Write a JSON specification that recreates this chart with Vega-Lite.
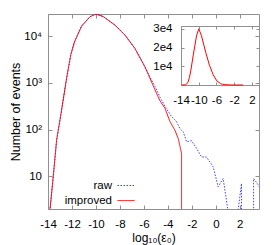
{
  "$schema": "https://vega.github.io/schema/vega-lite/v6.json",
  "width": 211,
  "height": 195,
  "autosize": {"type": "none"},
  "padding": {"left": 48, "top": 14, "right": 21, "bottom": 36},
  "config": {
    "font": "Liberation Sans",
    "view": {"stroke": "#909090", "strokeWidth": 1},
    "axis": {
      "labelFont": "Liberation Sans",
      "labelFontSize": 11.5,
      "labelColor": "black",
      "titleFont": "Liberation Sans",
      "titleFontSize": 12.5,
      "titleFontWeight": "normal",
      "titleColor": "black",
      "tickColor": "#909090",
      "domainColor": "#909090",
      "grid": false,
      "labelFlush": false,
      "labelOverlap": false
    }
  },
  "datasets": {
    "main": [
      {"series": "raw", "i": 0, "x": -13.9, "y": 1},
      {"series": "raw", "i": 1, "x": -13.83, "y": 2},
      {"series": "raw", "i": 2, "x": -13.56, "y": 10},
      {"series": "raw", "i": 3, "x": -13.28, "y": 60},
      {"series": "raw", "i": 4, "x": -12.94, "y": 200},
      {"series": "raw", "i": 5, "x": -12.44, "y": 1300},
      {"series": "raw", "i": 6, "x": -12.1, "y": 4000},
      {"series": "raw", "i": 7, "x": -11.8, "y": 7500},
      {"series": "raw", "i": 8, "x": -11.2, "y": 16500},
      {"series": "raw", "i": 9, "x": -10.5, "y": 26200},
      {"series": "raw", "i": 10, "x": -10.0, "y": 30000},
      {"series": "raw", "i": 11, "x": -9.4, "y": 26500},
      {"series": "raw", "i": 12, "x": -8.42, "y": 17400},
      {"series": "raw", "i": 13, "x": -7.58, "y": 10600},
      {"series": "raw", "i": 14, "x": -6.75, "y": 5500},
      {"series": "raw", "i": 15, "x": -5.92, "y": 2230},
      {"series": "raw", "i": 16, "x": -5.5, "y": 1350},
      {"series": "raw", "i": 17, "x": -5.08, "y": 850},
      {"series": "raw", "i": 18, "x": -4.67, "y": 500},
      {"series": "raw", "i": 19, "x": -4.25, "y": 320},
      {"series": "raw", "i": 20, "x": -3.69, "y": 190},
      {"series": "raw", "i": 21, "x": -3.28, "y": 150},
      {"series": "raw", "i": 22, "x": -3.0, "y": 105},
      {"series": "raw", "i": 23, "x": -2.72, "y": 90},
      {"series": "raw", "i": 24, "x": -2.44, "y": 55},
      {"series": "raw", "i": 25, "x": -2.03, "y": 58},
      {"series": "raw", "i": 26, "x": -1.61, "y": 40},
      {"series": "raw", "i": 27, "x": -1.19, "y": 26},
      {"series": "raw", "i": 28, "x": -0.78, "y": 26},
      {"series": "raw", "i": 29, "x": -0.22, "y": 16},
      {"series": "raw", "i": 30, "x": 0.19, "y": 6},
      {"series": "raw", "i": 31, "x": 0.61, "y": 9},
      {"series": "raw", "i": 32, "x": 1.17, "y": 1},
      {"series": "raw", "i": 33, "x": 1.72, "y": 1},
      {"series": "raw", "i": 34, "x": 2.14, "y": 7},
      {"series": "raw", "i": 35, "x": 2.14, "y": 1},
      {"series": "raw", "i": 36, "x": 3.15, "y": 1},
      {"series": "raw", "i": 37, "x": 3.15, "y": 9},
      {"series": "raw", "i": 38, "x": 3.55, "y": 6.5},
      {"series": "raw", "i": 39, "x": 3.8, "y": 5},
      {"series": "improved", "i": 0, "x": -13.9, "y": 1},
      {"series": "improved", "i": 1, "x": -13.83, "y": 2},
      {"series": "improved", "i": 2, "x": -13.56, "y": 10},
      {"series": "improved", "i": 3, "x": -13.28, "y": 60},
      {"series": "improved", "i": 4, "x": -12.94, "y": 200},
      {"series": "improved", "i": 5, "x": -12.44, "y": 1300},
      {"series": "improved", "i": 6, "x": -12.1, "y": 4000},
      {"series": "improved", "i": 7, "x": -11.8, "y": 7500},
      {"series": "improved", "i": 8, "x": -11.2, "y": 16500},
      {"series": "improved", "i": 9, "x": -10.5, "y": 26200},
      {"series": "improved", "i": 10, "x": -10.0, "y": 30000},
      {"series": "improved", "i": 11, "x": -9.4, "y": 26500},
      {"series": "improved", "i": 12, "x": -8.42, "y": 17400},
      {"series": "improved", "i": 13, "x": -7.58, "y": 10600},
      {"series": "improved", "i": 14, "x": -6.75, "y": 5500},
      {"series": "improved", "i": 15, "x": -5.92, "y": 2230},
      {"series": "improved", "i": 16, "x": -5.08, "y": 720},
      {"series": "improved", "i": 17, "x": -4.67, "y": 420},
      {"series": "improved", "i": 18, "x": -4.25, "y": 290},
      {"series": "improved", "i": 19, "x": -3.83, "y": 150},
      {"series": "improved", "i": 20, "x": -3.42, "y": 98},
      {"series": "improved", "i": 21, "x": -3.14, "y": 65},
      {"series": "improved", "i": 22, "x": -2.86, "y": 31},
      {"series": "improved", "i": 23, "x": -2.86, "y": 1},
      {"series": "improved", "i": 24, "x": 0.0, "y": 1}
    ]
  },
  "layer": [
    {
      "data": {"name": "main"},
      "layer": [
        {
          "mark": {"type": "line", "clip": true, "strokeWidth": 1},
          "encoding": {
            "x": {
              "field": "x", "type": "quantitative",
              "scale": {"domain": [-14, 3.6], "nice": false, "zero": false},
              "axis": {
                "orient": "bottom", "values": [-14, -12, -10, -8, -6, -4, -2, 0, 2],
                "labelExpr": "'' + datum.value",
                "title": "log₁₀(ε₀)", "titleFontSize": 12, "titlePadding": 3,
                "tickSize": -4, "labelPadding": 13, "domain": false
              }
            },
            "y": {
              "field": "y", "type": "quantitative",
              "scale": {"type": "log", "domain": [2, 30000], "nice": false},
              "axis": {
                "orient": "left", "values": [10, 100, 1000, 10000],
                "labelExpr": "datum.value == 10 ? '10' : datum.value == 100 ? '10²' : datum.value == 1000 ? '10³' : '10⁴'",
                "title": "Number of events", "titlePadding": 1,
                "tickSize": -4, "labelPadding": 10.5, "domain": false
              }
            },
            "color": {
              "field": "series", "type": "nominal",
              "scale": {"domain": ["raw", "improved"], "range": ["#4040ff", "#ff0000"]},
              "legend": {
                "orient": "none", "legendX": 69, "legendY": 162.5, "title": null,
                "symbolType": "stroke", "symbolSize": 289, "symbolStrokeWidth": 1,
                "labelAlign": "right", "labelOffset": -23, "labelFontSize": 11.5,
                "labelFont": "Liberation Sans", "labelColor": "black",
                "rowPadding": -3, "padding": 0
              }
            },
            "strokeDash": {
              "field": "series", "type": "nominal",
              "scale": {"domain": ["raw", "improved"], "range": [[1.5, 1.5], [1, 0]]},
              "legend": {
                "orient": "none", "legendX": 69, "legendY": 162.5, "title": null,
                "symbolType": "stroke", "symbolSize": 289, "symbolStrokeWidth": 1,
                "labelAlign": "right", "labelOffset": -23, "labelFontSize": 11.5,
                "labelFont": "Liberation Sans", "labelColor": "black",
                "rowPadding": -3, "padding": 0
              }
            },
            "order": {"field": "i", "type": "quantitative"}
          }
        },
        {
          "mark": {"type": "line", "strokeOpacity": 0},
          "encoding": {
            "x": {
              "field": "x", "type": "quantitative",
              "scale": {"domain": [-14, 3.6], "nice": false, "zero": false},
              "axis": {
                "orient": "top", "values": [-14, -12, -10, -8, -6, -4, -2, 0, 2],
                "title": null, "labels": false, "tickSize": -4, "domain": false
              }
            },
            "y": {
              "field": "y", "type": "quantitative",
              "scale": {"type": "log", "domain": [2, 30000], "nice": false},
              "axis": {
                "orient": "right", "values": [10, 100, 1000, 10000],
                "title": null, "labels": false, "tickSize": -4, "domain": false
              }
            },
            "detail": {"field": "series", "type": "nominal"},
            "order": {"field": "i", "type": "quantitative"}
          }
        }
      ],
      "resolve": {
        "scale": {"x": "shared", "y": "shared"},
        "axis": {"x": "independent", "y": "independent"}
      }
    },
    {
      "data": {"name": "main"},
      "transform": [{"filter": "datum.series == 'improved'"}],
      "layer": [
        {
          "mark": {"type": "line", "strokeWidth": 1, "color": "#ff0000"},
          "encoding": {
            "x": {
              "field": "x", "type": "quantitative",
              "scale": {"domain": [-14, 3.6], "nice": false, "zero": false, "range": [133, 211]},
              "axis": {
                "orient": "bottom", "offset": -124, "values": [-14, -10, -6, -2, 2],
                "labelExpr": "'' + datum.value",
                "title": null, "tickSize": -3, "labelPadding": 12, "domain": true
              }
            },
            "y": {
              "field": "y", "type": "quantitative",
              "scale": {"domain": [0, 31500], "nice": false, "zero": false, "range": [71, 12]},
              "axis": {
                "orient": "left", "offset": -133, "values": [10000, 20000, 30000],
                "labelExpr": "(datum.value / 10000) + 'e4'",
                "title": null, "tickSize": -3, "labelPadding": 12, "domain": true
              }
            },
            "order": {"field": "i", "type": "quantitative"}
          }
        },
        {
          "mark": {"type": "line", "strokeOpacity": 0},
          "encoding": {
            "x": {
              "field": "x", "type": "quantitative",
              "scale": {"domain": [-14, 3.6], "nice": false, "zero": false, "range": [133, 211]},
              "axis": {
                "orient": "top", "offset": -12, "values": [-14, -10, -6, -2, 2],
                "title": null, "labels": false, "tickSize": -3, "domain": true
              }
            },
            "y": {
              "field": "y", "type": "quantitative",
              "scale": {"domain": [0, 31500], "nice": false, "zero": false, "range": [71, 12]},
              "axis": {
                "orient": "right", "offset": 0, "values": [10000, 20000, 30000],
                "title": null, "labels": false, "tickSize": -3, "domain": true
              }
            },
            "order": {"field": "i", "type": "quantitative"}
          }
        }
      ],
      "resolve": {
        "scale": {"x": "shared", "y": "shared"},
        "axis": {"x": "independent", "y": "independent"}
      }
    }
  ],
  "resolve": {
    "scale": {"x": "independent", "y": "independent"},
    "axis": {"x": "independent", "y": "independent"}
  }
}
